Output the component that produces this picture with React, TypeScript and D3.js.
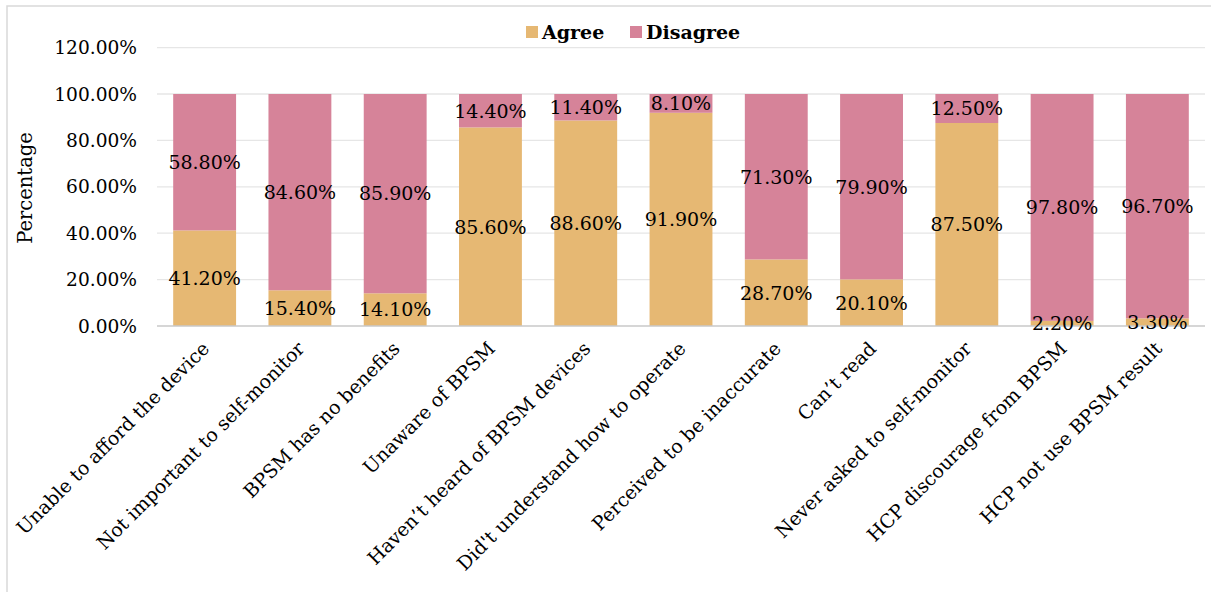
import React from "react";
import * as d3 from "d3";

const categories = [
  "Unable to afford the device",
  "Not important to self-monitor",
  "BPSM has no benefits",
  "Unaware of BPSM",
  "Haven\u2019t heard of BPSM devices",
  "Did't understand how to operate",
  "Perceived to be inaccurate",
  "Can\u2019t read",
  "Never asked to self-monitor",
  "HCP discourage from BPSM",
  "HCP not use BPSM result",
];
const agree = [41.2, 15.4, 14.1, 85.6, 88.6, 91.9, 28.7, 20.1, 87.5, 2.2, 3.3];
const disagree = [58.8, 84.6, 85.9, 14.4, 11.4, 8.1, 71.3, 79.9, 12.5, 97.8, 96.7];
const yTicks = [0, 20, 40, 60, 80, 100, 120];
const seriesNames = ["Agree", "Disagree"];
const seriesColors = ["#E6B873", "#D68399"];

const W = 1211;
const H = 592;
const FONT = "'DejaVu Serif', serif";

export default function App() {
  const x = d3
    .scaleBand<string>()
    .domain(categories)
    .range([157, 1205])
    .paddingInner(0.34)
    .paddingOuter(0.17);
  const y = d3.scaleLinear().domain([0, 120]).range([326, 47.6]);
  const fmt = (v: number) => v.toFixed(2) + "%";

  return (
    <svg
      width={W}
      height={H}
      style={{ position: "absolute", left: 0, top: 0, background: "#fff" }}
      fontFamily={FONT}
    >
      <rect x={7} y={6} width={W + 10} height={H + 10} fill="#fff" stroke="#d9d9d9" strokeWidth={1.5} />
      {yTicks.map((t) => (
        <g key={t}>
          {t > 0 && (
            <line x1={157} x2={1205} y1={y(t)} y2={y(t)} stroke="#e6e6e6" strokeWidth={1.3} />
          )}
          <text x={137} y={y(t)} dy="0.36em" textAnchor="end" fontSize={18.6} fill="#000">
            {fmt(t)}
          </text>
        </g>
      ))}
      {categories.map((c, i) => {
        const bx = x(c)!;
        const bw = x.bandwidth();
        const a = agree[i];
        const d = disagree[i];
        return (
          <g key={c}>
            <rect x={bx} y={y(a)} width={bw} height={y(0) - y(a)} fill={seriesColors[0]} />
            <rect x={bx} y={y(a + d)} width={bw} height={y(a) - y(a + d)} fill={seriesColors[1]} />
          </g>
        );
      })}
      <line x1={157} x2={1205} y1={y(0)} y2={y(0)} stroke="#c8c8c8" strokeWidth={1.5} />
      {categories.map((c, i) => {
        const cx = x(c)! + x.bandwidth() / 2;
        const a = agree[i];
        const d = disagree[i];
        return (
          <g key={c + "l"} fontSize={19} textAnchor="middle" fill="#000">
            <text x={cx} y={(y(0) + y(a)) / 2} dy="0.36em">
              {fmt(a)}
            </text>
            <text x={cx} y={(y(a) + y(a + d)) / 2} dy="0.36em">
              {fmt(d)}
            </text>
          </g>
        );
      })}
      {categories.map((c) => {
        const cx = x(c)! + x.bandwidth() / 2;
        return (
          <text
            key={c + "c"}
            transform={`translate(${cx + 1},${345}) rotate(-45)`}
            textAnchor="end"
            dy="0.36em"
            fontSize={19}
            fill="#000"
          >
            {c}
          </text>
        );
      })}
      <text
        transform={`translate(25,${188}) rotate(-90)`}
        textAnchor="middle"
        dy="0.36em"
        fontSize={19.5}
        fill="#000"
      >
        Percentage
      </text>
      {seriesNames.map((s, i) => {
        const lx = i === 0 ? 526 : 630;
        return (
          <g key={s}>
            <rect x={lx} y={26} width={12} height={12} fill={seriesColors[i]} />
            <text x={lx + 16} y={39} fontSize={19} fontWeight="bold" fill="#000">
              {s}
            </text>
          </g>
        );
      })}
    </svg>
  );
}
